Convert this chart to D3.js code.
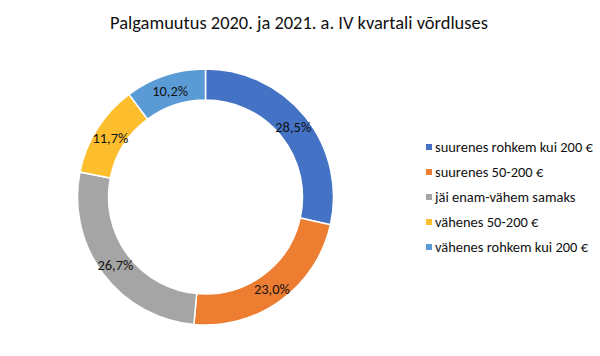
<!DOCTYPE html>
<html><head><meta charset="utf-8">
<script src="https://cdn.jsdelivr.net/npm/d3@7"></script>
<style>body{margin:0;background:#fff}svg{display:block}text{font-family:Carlito,Calibri,Lato,"Open Sans",sans-serif;fill:#111}</style>
</head><body><svg id="c" width="600" height="356"></svg>
<script>
const title = "Palgamuutus 2020. ja 2021. a. IV kvartali võrdluses";
const categories = ["suurenes rohkem kui 200 €","suurenes 50-200 €","jäi enam-vähem samaks","vähenes 50-200 €","vähenes rohkem kui 200 €"];
const values = [28.5, 23.0, 26.7, 11.7, 10.2];
const labels = ["28,5%","23,0%","26,7%","11,7%","10,2%"];
const colors = ["#4472C4","#ED7D31","#A5A5A5","#FCBE2D","#5B9BD5"];

const svg = d3.select("#c");
const cx = 205.5, cy = 197, rO = 128, rI = 97;

function fit(sel, w){ const n = sel.node(); const fs = parseFloat(sel.attr("font-size")); const l = n.getComputedTextLength(); sel.attr("font-size", fs * w / l); }

const t = svg.append("text").attr("x", 299).attr("y", 29).attr("text-anchor","middle").attr("font-size",18).text(title);
fit(t, 378);

const pie = d3.pie().sort(null).value(d=>d)(values);
const arc = d3.arc().innerRadius(rI).outerRadius(rO);
const g = svg.append("g").attr("transform",`translate(${cx},${cy})`);
g.selectAll("path").data(pie).join("path").attr("d",arc).attr("fill",(d,i)=>colors[i]).attr("stroke","#fff").attr("stroke-width",1.5);
g.selectAll("text.l").data(pie).join("text").attr("class","l")
 .attr("transform",d=>`translate(${arc.centroid(d)})`).attr("text-anchor","middle").attr("dy","0.4em")
 .attr("font-size",13).text((d,i)=>labels[i]).each(function(){ fit(d3.select(this), 36); });

const y = d3.scalePoint().domain(categories).range([147,247]);
const lg = svg.append("g");
categories.forEach((c,i)=>{
  lg.append("rect").attr("x",426).attr("y",y(c)-3).attr("width",6).attr("height",6).attr("fill",colors[i]);
  const tx = lg.append("text").attr("x",435).attr("y",y(c)).attr("dy","0.35em").attr("font-size",13).text(c);
  if(i===0) fit(tx, 158);
});
const fsz = lg.select("text").attr("font-size");
lg.selectAll("text").attr("font-size", fsz);
</script></body></html>
